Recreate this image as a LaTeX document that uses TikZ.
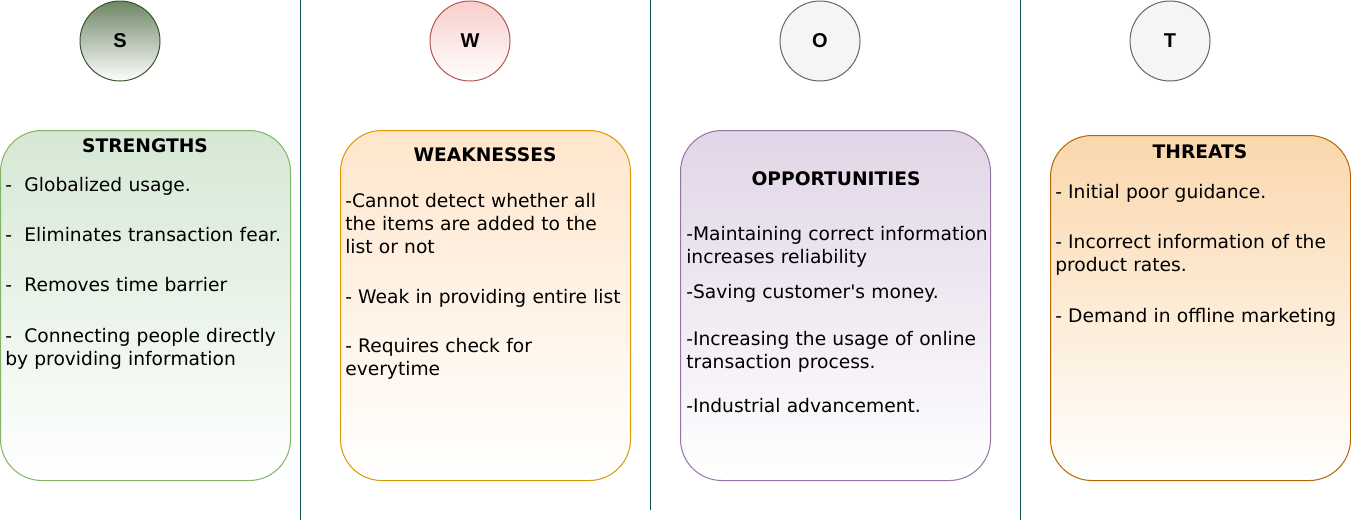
\documentclass[tikz,border=0pt]{standalone}
\usepackage{fontspec}
\setmainfont{DejaVu Sans}
\newfontfamily\lettfont{Liberation Sans}
\definecolor{sline}{HTML}{82B366}
\definecolor{sfill}{HTML}{D5E8D4}
\definecolor{scirc}{HTML}{6D8764}
\definecolor{scircline}{HTML}{3A5431}
\definecolor{wline}{HTML}{D79B00}
\definecolor{wfill}{HTML}{FFE6CC}
\definecolor{wcirc}{HTML}{F8CECC}
\definecolor{wcircline}{HTML}{B85450}
\definecolor{oline}{HTML}{9673A6}
\definecolor{ofill}{HTML}{E1D5E7}
\definecolor{tline}{HTML}{B46504}
\definecolor{tfill}{HTML}{FAD7AC}
\definecolor{grayfill}{HTML}{F5F5F5}
\definecolor{grayline}{HTML}{666666}
\definecolor{divider}{HTML}{0B5454}
\begin{document}
\begin{tikzpicture}[x=0.75pt,y=-0.75pt,
  quad/.style={rounded corners=31pt, line width=0.75pt, bottom color=white},
  letter/.style={circle, minimum size=60pt, inner sep=0pt, line width=0.75pt},
  heading/.style={anchor=base, inner sep=0pt, font=\bfseries\fontsize{14}{17}\selectfont},
  item/.style={anchor=base west, inner sep=0pt, text width=230pt, align=left,
    font=\fontsize{14}{17.6}\selectfont},
  sep/.style={draw=divider, line width=0.9pt}]
\useasboundingbox (0,0) rectangle (1351,522);
\newcommand\circletter[1]{{\lettfont\fontsize{15}{17}\selectfont\bfseries #1}}

% column dividers
\coordinate (d1t) at (300.5,0);   \coordinate (d1b) at (300.5,520);
\coordinate (d2t) at (650.5,0);   \coordinate (d2b) at (650.5,510);
\coordinate (d3t) at (1020.5,0);  \coordinate (d3b) at (1020.5,520);
\draw[sep] (d1t) -- (d1b);
\draw[sep] (d2t) -- (d2b);
\draw[sep] (d3t) -- (d3b);

% letter circles
\node[letter, draw=scircline, top color=scirc, bottom color=white] (cS) at (120,41) {\circletter{S}};
\node[letter, draw=wcircline, top color=wcirc, bottom color=white] (cW) at (470,41) {\circletter{W}};
\node[letter, draw=grayline, fill=grayfill] (cO) at (820,41) {\circletter{O}};
\node[letter, draw=grayline, fill=grayfill] (cT) at (1170,41) {\circletter{T}};

% quadrant boxes
\draw[quad, draw=sline, top color=sfill] (0.5,130.5) rectangle (290.5,480.5);
\draw[quad, draw=wline, top color=wfill] (340.5,130.5) rectangle (630.5,480.5);
\draw[quad, draw=oline, top color=ofill] (680.5,130.5) rectangle (990.5,480.5);
\draw[quad, draw=tline, top color=tfill] (1050.5,135.5) rectangle (1350.5,480.5);

% strengths
\node[heading] (hS) at (145,152) {STRENGTHS};
\node[item] (s1) at (5,191) {-\ \ Globalized usage.};
\node[item] (s2) at (5,241) {-\ \ Eliminates transaction fear.};
\node[item] (s3) at (5,291) {-\ \ Removes time barrier};
\node[item] (s4) at (5,342) {-\ \ Connecting people directly\\by providing information};

% weaknesses
\node[heading] (hW) at (485,161) {WEAKNESSES};
\node[item] (w1) at (345,207) {-Cannot detect whether all\\the items are added to the\\list or not};
\node[item] (w2) at (345,303) {- Weak in providing entire list};
\node[item] (w3) at (345,352) {- Requires check for\\everytime};

% opportunities
\node[heading] (hO) at (836,185) {OPPORTUNITIES};
\node[item] (o1) at (686,240) {-Maintaining correct information\\increases reliability};
\node[item] (o2) at (686,298) {-Saving customer\textquotesingle s money.};
\node[item] (o3) at (686,345) {-Increasing the usage of online\\transaction process.};
\node[item] (o4) at (686,412) {-Industrial advancement.};

% threats
\node[heading] (hT) at (1200,158) {THREATS};
\node[item] (t1) at (1055,198) {- Initial poor guidance.};
\node[item] (t2) at (1055,248) {- Incorrect information of the\\product rates.};
\node[item] (t3) at (1055,322) {- Demand in offline marketing};
\end{tikzpicture}
\end{document}
